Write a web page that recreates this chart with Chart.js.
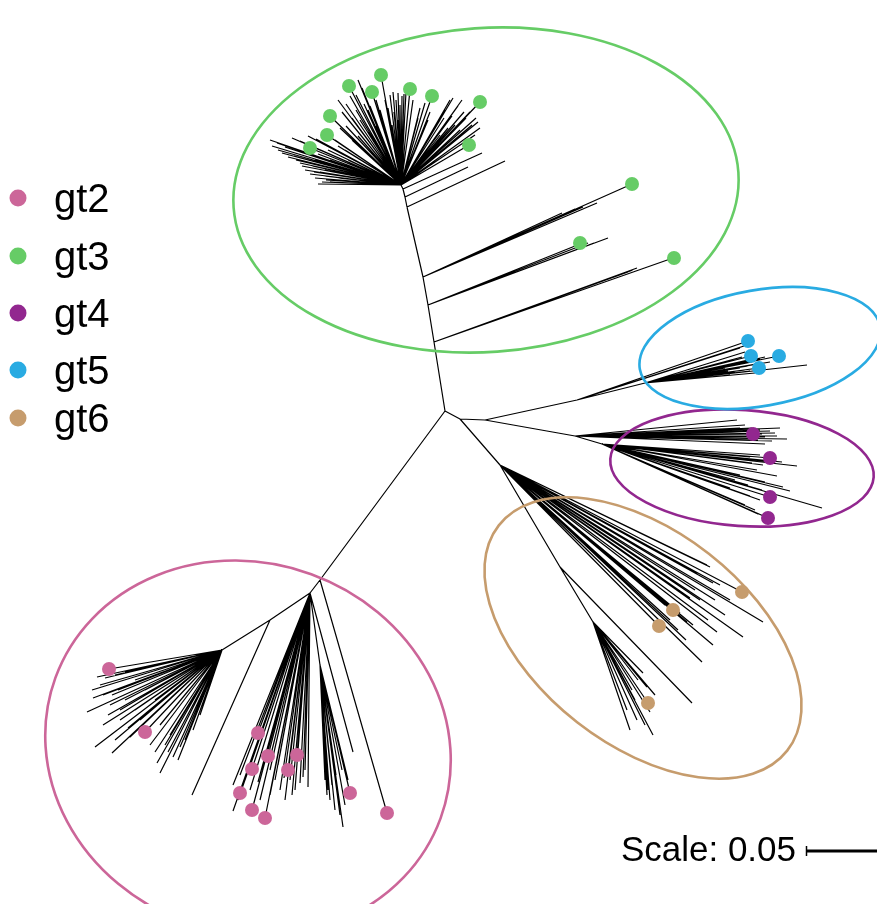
<!DOCTYPE html>
<html>
<head>
<meta charset="utf-8">
<script src="https://cdn.jsdelivr.net/npm/chart.js@4.4.1/dist/chart.umd.min.js"></script>
<style>
  html, body { margin: 0; padding: 0; background: #ffffff; }
  #wrap { position: relative; width: 877px; height: 904px; }
</style>
</head>
<body>
<div id="wrap"><canvas id="tree"></canvas></div>
<script>
// Unrooted genotype tree. All positions are in layout units of the drawing plane
// (x to the right, y downwards); 0.05 substitutions/site spans 71 layout units.

const genotypes = ['gt2', 'gt3', 'gt4', 'gt5', 'gt6'];
const genotypeColors = ['#CC6699', '#66CC66', '#92278F', '#29ABE2', '#C69C6D'];

// internal nodes
const nodes = {
  root: [445, 411], b1: [434, 342], b2: [428, 305], b3: [423, 277], b4: [407, 207],
  b5: [405, 197], b6: [403, 189], h3: [401, 185],
  j1: [460, 419], q: [485, 420], g5: [577, 400], g5b: [645, 383], g4: [575, 436], g4b: [602, 444],
  g6: [500, 465], s1: [560, 567], s2: [593, 622],
  p1: [320, 580], p2: [310, 593], p3: [320, 665], p4: [270, 620], p5: [222, 650]
};

// internal branches
const links = [
  ['root', 'b1'], ['b1', 'b2'], ['b2', 'b3'], ['b3', 'b4'], ['b4', 'b5'], ['b5', 'b6'], ['b6', 'h3'],
  ['root', 'j1'], ['j1', 'q'], ['q', 'g5'], ['g5', 'g5b'], ['q', 'g4'], ['g4', 'g4b'],
  ['j1', 'g6'], ['g6', 's1'], ['s1', 's2'],
  ['root', 'p1'], ['p1', 'p2'], ['p2', 'p3'], ['p2', 'p4'], ['p4', 'p5']
];

// terminal branches: tip positions, grouped by the node they hang from
const leavesGt3Stem = [
  ['b1', [[673, 258], [637, 268], [628, 272], [633, 270]]],
  ['b2', [[608, 238], [594, 243], [580, 244], [588, 243]]],
  ['b3', [[632, 184], [597, 203], [590, 206], [562, 213], [575, 209], [583, 207]]],
  ['b4', [[505, 161]]], ['b5', [[468, 167]]], ['b6', [[482, 153]]]
];
const leavesGt3Crown = [
  [318, 184], [322, 182], [326, 180], [315, 178], [330, 182], [310, 174], [320, 172], [305, 170],
  [312, 166], [300, 163], [296, 160], [288, 157], [282, 153], [278, 150], [272, 146], [270, 140],
  [277, 143], [285, 147], [292, 138], [300, 141], [308, 136], [316, 139], [310, 148], [327, 135],
  [335, 140], [340, 128], [330, 116], [346, 126], [342, 112], [338, 100], [346, 104], [350, 96],
  [349, 86], [356, 95], [358, 80], [362, 88], [366, 98], [372, 92], [376, 100], [381, 75],
  [390, 95], [393, 92], [396, 100], [398, 93], [402, 96], [404, 94], [406, 92], [410, 89],
  [413, 100], [420, 108], [425, 103], [432, 96], [430, 112], [440, 120], [445, 110], [450, 100],
  [453, 98], [458, 106], [462, 100], [466, 118], [470, 112], [472, 125], [476, 118], [480, 102],
  [478, 122], [480, 128], [469, 145], [475, 135], [325, 170], [335, 165], [315, 160], [345, 150],
  [360, 120], [368, 110], [385, 100], [440, 135], [455, 125], [324, 176], [332, 174], [338, 178],
  [314, 172], [302, 166], [294, 156], [306, 158], [318, 154], [328, 150], [338, 146], [352, 140],
  [352, 118], [356, 110], [364, 104], [370, 106], [380, 110], [388, 108], [394, 112], [400, 105],
  [408, 110], [418, 118], [428, 120], [436, 126], [448, 128], [460, 130], [464, 112], [444, 118],
  [452, 116], [398, 120], [392, 125], [384, 130], [376, 126], [368, 132], [358, 136], [348, 160],
  [340, 168], [330, 160]
];
const leavesGt5 = [
  ['g5', [[748, 341], [740, 348], [744, 346]]],
  ['g5b', [[751, 356], [779, 356], [807, 365], [759, 368], [745, 352], [742, 357], [748, 360],
           [752, 362], [738, 364], [740, 368], [745, 370], [735, 372], [755, 373], [730, 375],
           [760, 359], [765, 357], [770, 362], [733, 360], [725, 368], [718, 372], [748, 366],
           [743, 363], [737, 368], [750, 371], [728, 371], [756, 364]]]
];
const leavesGt4 = [
  ['g4', [[737, 420], [745, 425], [752, 428], [760, 430], [770, 431], [780, 428], [787, 439],
          [777, 436], [765, 437], [753, 434], [758, 440], [772, 441], [742, 432], [733, 430], [765, 444],
          [748, 436], [762, 434], [775, 433], [740, 428], [755, 431]]],
  ['g4b', [[770, 458], [797, 466], [760, 455], [750, 457], [782, 462], [777, 476], [757, 470],
           [745, 468], [783, 487], [765, 482], [740, 475], [822, 508], [770, 497], [760, 500],
           [750, 496], [768, 518], [755, 510], [745, 505], [735, 480], [730, 488], [790, 491], [763, 465],
           [772, 462], [752, 463], [762, 490], [758, 514], [748, 485]]]
];
const leavesGt6 = [
  ['g6', [[710, 567], [707, 565], [697, 573], [713, 583], [720, 585], [742, 592], [763, 622],
          [743, 637], [717, 632], [713, 645], [673, 610], [659, 626], [702, 662], [693, 625],
          [687, 622], [680, 613], [700, 600], [690, 598], [705, 610], [725, 615], [730, 600],
          [686, 640], [678, 630], [670, 620], [665, 605], [695, 590], [715, 600], [708, 620]]],
  ['s1', [[692, 703]]],
  ['s2', [[630, 730], [653, 735], [647, 687], [643, 673], [648, 703], [637, 720], [627, 710],
          [640, 715], [645, 725], [635, 700], [650, 712], [632, 690], [638, 680], [655, 695]]]
];
const leavesGt2 = [
  ['p1', [[387, 813]]],
  ['p4', [[192, 795]]],
  ['p5', [[109, 669], [97, 677], [100, 685], [93, 698], [87, 712], [103, 725], [110, 705], [118, 690],
          [125, 700], [108, 715], [120, 720], [95, 747], [112, 753], [130, 737], [145, 732], [157, 763],
          [160, 773], [173, 757], [180, 747], [193, 730], [165, 745], [150, 745], [140, 720], [135, 710],
          [128, 728], [170, 735], [185, 740], [178, 760], [190, 720], [200, 715], [115, 740], [103, 695],
          [92, 690], [105, 678], [115, 675], [125, 672], [135, 680], [145, 690], [155, 700], [148, 712],
          [160, 725], [168, 752], [155, 752], [120, 710], [112, 695]]],
  ['p2', [[258, 733], [233, 785], [240, 793], [233, 811], [252, 810], [265, 818], [268, 756],
          [252, 769], [288, 770], [297, 755], [308, 787], [303, 777], [300, 783], [245, 780],
          [250, 790], [260, 800], [270, 795], [275, 780], [280, 790], [285, 800], [292, 795],
          [255, 760], [262, 770], [270, 770], [278, 765], [240, 775], [238, 800], [290, 780],
          [295, 790], [305, 770], [353, 752], [248, 772], [258, 782], [284, 778]]],
  ['p3', [[330, 800], [335, 810], [343, 827], [340, 815], [328, 790], [345, 805], [338, 795],
          [332, 785], [350, 793], [348, 780], [342, 770], [336, 775], [325, 780], [327, 795]]]
];

// labelled reference sequences (coloured tips), one list per genotype
const tipsGt2 = [[109, 669], [145, 732], [258, 733], [252, 769], [268, 756], [288, 770], [297, 755],
                 [240, 793], [252, 810], [265, 818], [350, 793], [387, 813]];
const tipsGt3 = [[349, 86], [381, 75], [372, 92], [410, 89], [432, 96], [480, 102], [330, 116],
                 [327, 135], [310, 148], [469, 145], [632, 184], [580, 243], [674, 258]];
const tipsGt4 = [[753, 434], [770, 458], [770, 497], [768, 518]];
const tipsGt5 = [[748, 341], [751, 356], [779, 356], [759, 368]];
const tipsGt6 = [[742, 592], [673, 610], [659, 626], [648, 703]];
const tipsByGenotype = [tipsGt2, tipsGt3, tipsGt4, tipsGt5, tipsGt6];

// clade outlines: centre, semi-axes and tilt (degrees), per genotype
const ellipseCx = [248, 486, 742, 760, 643];
const ellipseCy = [748, 190, 468, 348, 638];
const ellipseRx = [205, 253, 132, 122, 183];
const ellipseRy = [185, 162, 58, 58, 107];
const ellipseTilt = [20, -4, 4, -10, 38];

// scale bar
const scaleLabel = 'Scale: 0.05';
const scaleLength = 71;

// ---- build the branch polyline (segments separated by gaps) ----
const branchPoints = [];
function addSegment(a, b) {
  branchPoints.push({ x: a[0], y: a[1] }, { x: b[0], y: b[1] }, { x: NaN, y: NaN });
}
links.forEach(([a, b]) => addSegment(nodes[a], nodes[b]));
[leavesGt3Stem, leavesGt5, leavesGt4, leavesGt6, leavesGt2].forEach(group =>
  group.forEach(([hub, tips]) => tips.forEach(t => addSegment(nodes[hub], t))));
leavesGt3Crown.forEach(t => addSegment(nodes.h3, t));

const FONT = "'Liberation Sans', Arial, Helvetica, sans-serif";

const datasets = genotypes.map((g, i) => ({
  label: g,
  data: tipsByGenotype[i].map(p => ({ x: p[0], y: p[1] })),
  pointRadius: 7,
  pointBorderWidth: 0,
  pointBackgroundColor: genotypeColors[i],
  showLine: false,
  order: 0
}));
datasets.push({
  label: 'branches',
  data: branchPoints,
  showLine: true,
  spanGaps: false,
  borderColor: '#000000',
  borderWidth: 1.2,
  pointRadius: 0,
  order: 10
});

const cladeOutlines = {
  id: 'cladeOutlines',
  afterDatasetsDraw(chart) {
    const { ctx, scales: { x, y } } = chart;
    ctx.save();
    genotypes.forEach((g, i) => {
      const cx = x.getPixelForValue(ellipseCx[i]);
      const cy = y.getPixelForValue(ellipseCy[i]);
      const rx = Math.abs(x.getPixelForValue(ellipseCx[i] + ellipseRx[i]) - cx);
      const ry = Math.abs(y.getPixelForValue(ellipseCy[i] + ellipseRy[i]) - cy);
      ctx.beginPath();
      ctx.ellipse(cx, cy, rx, ry, ellipseTilt[i] * Math.PI / 180, 0, Math.PI * 2);
      ctx.strokeStyle = genotypeColors[i];
      ctx.lineWidth = 2.6;
      ctx.stroke();
    });
    ctx.restore();
  }
};

const keyAndScale = {
  id: 'keyAndScale',
  afterDraw(chart) {
    const { ctx, scales: { x } } = chart;
    ctx.save();
    // genotype key
    const rows = [198, 256, 313, 370, 418];
    ctx.font = '40px ' + FONT;
    ctx.textBaseline = 'middle';
    ctx.textAlign = 'left';
    genotypes.forEach((g, i) => {
      ctx.beginPath();
      ctx.arc(18, rows[i], 8.5, 0, Math.PI * 2);
      ctx.fillStyle = genotypeColors[i];
      ctx.fill();
      ctx.fillStyle = '#000000';
      ctx.fillText(g, 54, rows[i] + 3);
    });
    // scale bar
    const barY = 851;
    const x1 = 806;
    const x2 = x1 + Math.abs(x.getPixelForValue(scaleLength) - x.getPixelForValue(0));
    ctx.strokeStyle = '#000000';
    ctx.lineWidth = 3;
    ctx.beginPath();
    ctx.moveTo(x1, barY);
    ctx.lineTo(x2, barY);
    ctx.stroke();
    ctx.lineWidth = 1.5;
    ctx.beginPath();
    ctx.moveTo(x1 + 0.5, barY - 5);
    ctx.lineTo(x1 + 0.5, barY + 5);
    ctx.stroke();
    ctx.font = '35px ' + FONT;
    ctx.textAlign = 'right';
    ctx.fillStyle = '#000000';
    ctx.fillText(scaleLabel, 796, barY);
    ctx.restore();
  }
};

new Chart(document.getElementById('tree'), {
  type: 'scatter',
  data: { datasets },
  options: {
    responsive: true,
    maintainAspectRatio: false,
    animation: false,
    events: [],
    layout: { padding: 0, autoPadding: false },
    scales: {
      x: { type: 'linear', min: 0, max: 877, display: false },
      y: { type: 'linear', min: 0, max: 904, reverse: true, display: false }
    },
    plugins: { legend: { display: false }, tooltip: { enabled: false } }
  },
  plugins: [cladeOutlines, keyAndScale]
});
</script>
</body>
</html>
